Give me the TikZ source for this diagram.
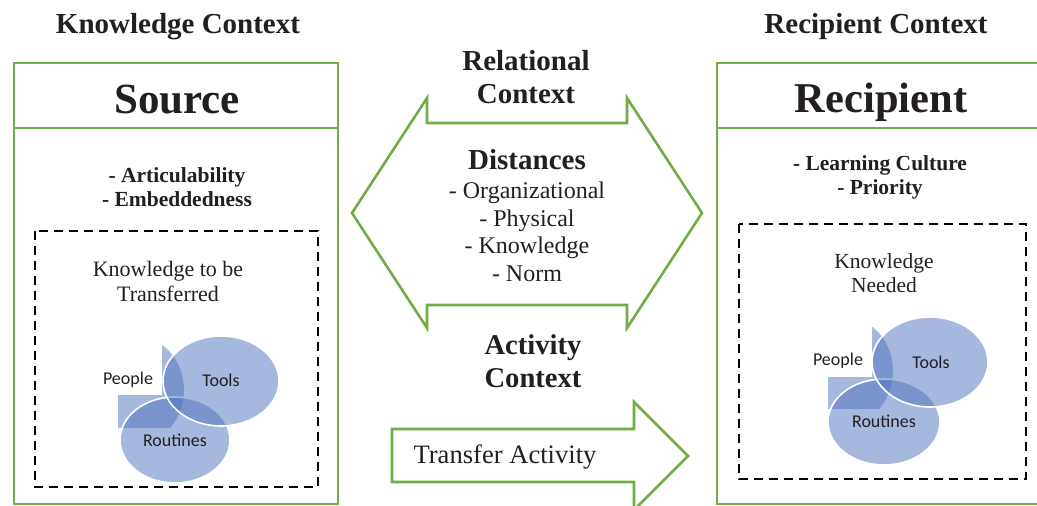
\documentclass[tikz,border=0pt]{standalone}
\usepackage{fontspec}
\setmainfont{Liberation Serif}
\newfontfamily\venfont{Carlito}
\begin{document}
\begin{tikzpicture}[x=1pt,y=-1pt,
  grn/.style={draw={rgb,255:red,112;green,173;blue,71}, line width=2.6pt},
  dash box/.style={draw=black, line width=1.8pt, dash pattern=on 9pt off 6pt},
  blob/.style={fill={rgb,255:red,79;green,114;blue,190}, fill opacity=0.5, draw=white, line width=1.6pt},
  pblob/.style={fill={rgb,255:red,79;green,114;blue,190}, fill opacity=0.5},
  txt/.style={text={rgb,255:red,35;green,31;blue,32}, inner sep=0pt, align=center},
  vlab/.style={txt, font=\venfont\fontsize{18}{20}\selectfont}
]
\useasboundingbox (0,0) rectangle (1037,506);
\clip (0,0) rectangle (1037,506);

% Source box
\draw[grn] (14,63) rectangle (338,504);
\draw[grn] (14,128) -- (338,128);
\draw[dash box] (35,231) rectangle (318,487);

% Recipient box
\draw[grn] (717,63) rectangle (1050,504);
\draw[grn] (717,128) -- (1050,128);
\draw[dash box] (739,224) rectangle (1026,479);

% Relational double arrow
\draw[grn, line join=miter] (352,213) -- (427,98) -- (427,123) -- (627,123) -- (627,98) -- (702,213)
  -- (627,328) -- (627,305) -- (427,305) -- (427,328) -- cycle;

% Transfer arrow
\draw[grn, line join=miter] (392,429) -- (634,429) -- (634,402) -- (688,456) -- (634,510) -- (634,482) -- (392,482) -- cycle;

% Venn source
\begin{scope}
  \clip (162,330) rectangle (200,428) (118,395) rectangle (162,428);
  \fill[pblob] (140,390) ellipse [x radius=44, y radius=52];
\end{scope}
\draw[blob] (175,440) ellipse [x radius=55, y radius=43];
\draw[blob] (221,381) ellipse [x radius=58, y radius=45];

% Venn recipient
\begin{scope}
  \clip (872,310) rectangle (910,409) (828,377) rectangle (872,409);
  \fill[pblob] (849,371) ellipse [x radius=44, y radius=52];
\end{scope}
\draw[blob] (884,422) ellipse [x radius=56, y radius=43];
\draw[blob] (930,362) ellipse [x radius=58, y radius=45];

% Texts
\node[txt, font=\bfseries\fontsize{29}{33}\selectfont] (kc) at (178,27) {Knowledge Context};
\node[txt, font=\bfseries\fontsize{29}{33}\selectfont] (rc) at (876,27) {Recipient Context};
\node[txt, font=\bfseries\fontsize{43}{48}\selectfont] (src) at (177,100) {Source};
\node[txt, font=\bfseries\fontsize{42.5}{48}\selectfont] (rcp) at (881,102) {Recipient};
\node[txt, font=\bfseries\fontsize{21.5}{24}\selectfont] (sattr) at (177,187) {- Articulability\\- Embeddedness};
\node[txt, font=\bfseries\fontsize{21.5}{24}\selectfont] (rattr) at (880,177) {- Learning Culture\\- Priority};
\node[txt, font=\fontsize{22}{25}\selectfont] (ktbt) at (168,281) {Knowledge to be\\Transferred};
\node[txt, font=\fontsize{21.5}{24}\selectfont] (kn) at (884,273) {Knowledge\\Needed};
\node[txt, font=\bfseries\fontsize{29}{33}\selectfont] (relc) at (526,77) {Relational\\Context};
\node[txt, font=\bfseries\fontsize{29}{33}\selectfont] (dist) at (527,160) {Distances};
\node[txt, font=\fontsize{24}{27.5}\selectfont] (dlist) at (527,232) {- Organizational\\- Physical\\- Knowledge\\- Norm};
\node[txt, font=\bfseries\fontsize{28.6}{33}\selectfont] (actc) at (533,361) {Activity\\Context};
\node[txt, font=\fontsize{26.6}{30}\selectfont] (ta) at (505,457) {Transfer Activity};

\node[vlab] (sp) at (128,380) {People};
\node[vlab] (st) at (221,380) {Tools};
\node[vlab] (sr) at (175,440) {Routines};
\node[vlab] (rp) at (838,361) {People};
\node[vlab] (rt) at (931,362) {Tools};
\node[vlab] (rr) at (884,421) {Routines};
\end{tikzpicture}
\end{document}
